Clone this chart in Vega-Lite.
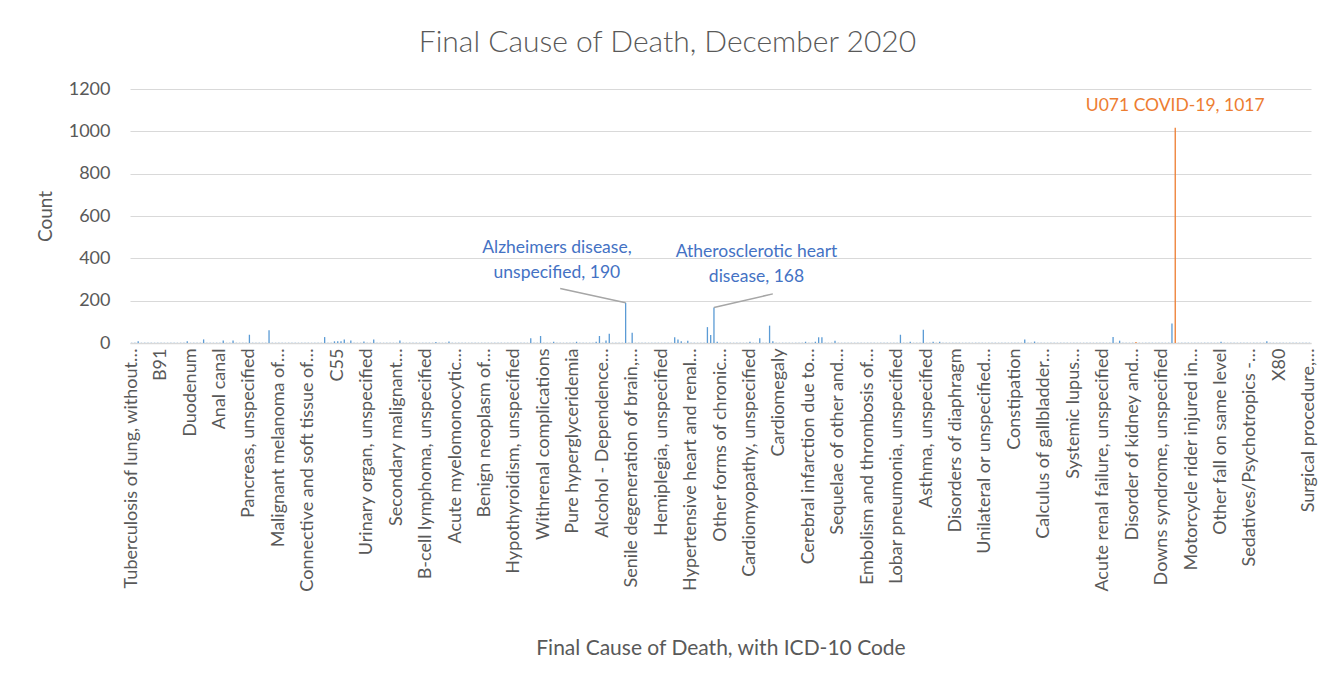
{
"$schema":"https://vega.github.io/schema/vega-lite/v6.json",
"autosize":{"type":"none"},
"width":1181,"height":254,
"padding":{"left":130,"top":89,"right":24,"bottom":348},
"background":"white",
"config":{"view":{"stroke":null},"font":"Lato"},
"title":{"text":"Final Cause of Death, December 2020","fontSize":30,"fontWeight":300,"color":"#595959","font":"Lato","anchor":"middle","dx":-53,"offset":22},
"datasets":{
"causes":[
{"i":0,"cause":"Tuberculosis of lung, without…","count":1},{"i":1,"cause":"Cause 1","count":1},{"i":2,"cause":"Cause 2","count":8},{"i":3,"cause":"Cause 3","count":1},{"i":4,"cause":"Cause 4","count":1},{"i":5,"cause":"Cause 5","count":1},{"i":6,"cause":"Cause 6","count":1},{"i":7,"cause":"Cause 7","count":1},{"i":8,"cause":"Cause 8","count":1},{"i":9,"cause":"B91","count":1},
{"i":10,"cause":"Cause 10","count":1},{"i":11,"cause":"Cause 11","count":1},{"i":12,"cause":"Cause 12","count":1},{"i":13,"cause":"Cause 13","count":1},{"i":14,"cause":"Cause 14","count":1},{"i":15,"cause":"Cause 15","count":1},{"i":16,"cause":"Cause 16","count":1},{"i":17,"cause":"Cause 17","count":8},{"i":18,"cause":"Duodenum","count":1},{"i":19,"cause":"Cause 19","count":1},
{"i":20,"cause":"Cause 20","count":1},{"i":21,"cause":"Cause 21","count":1},{"i":22,"cause":"Cause 22","count":17},{"i":23,"cause":"Cause 23","count":1},{"i":24,"cause":"Cause 24","count":1},{"i":25,"cause":"Cause 25","count":1},{"i":26,"cause":"Cause 26","count":1},{"i":27,"cause":"Anal canal","count":1},{"i":28,"cause":"Cause 28","count":12},{"i":29,"cause":"Cause 29","count":1},
{"i":30,"cause":"Cause 30","count":1},{"i":31,"cause":"Cause 31","count":12},{"i":32,"cause":"Cause 32","count":1},{"i":33,"cause":"Cause 33","count":1},{"i":34,"cause":"Cause 34","count":1},{"i":35,"cause":"Cause 35","count":1},{"i":36,"cause":"Pancreas, unspecified","count":39},{"i":37,"cause":"Cause 37","count":1},{"i":38,"cause":"Cause 38","count":1},{"i":39,"cause":"Cause 39","count":1},
{"i":40,"cause":"Cause 40","count":1},{"i":41,"cause":"Cause 41","count":1},{"i":42,"cause":"Cause 42","count":60},{"i":43,"cause":"Cause 43","count":1},{"i":44,"cause":"Cause 44","count":1},{"i":45,"cause":"Malignant melanoma of…","count":1},{"i":46,"cause":"Cause 46","count":1},{"i":47,"cause":"Cause 47","count":1},{"i":48,"cause":"Cause 48","count":1},{"i":49,"cause":"Cause 49","count":1},
{"i":50,"cause":"Cause 50","count":1},{"i":51,"cause":"Cause 51","count":1},{"i":52,"cause":"Cause 52","count":1},{"i":53,"cause":"Cause 53","count":1},{"i":54,"cause":"Connective and soft tissue of…","count":1},{"i":55,"cause":"Cause 55","count":1},{"i":56,"cause":"Cause 56","count":1},{"i":57,"cause":"Cause 57","count":1},{"i":58,"cause":"Cause 58","count":1},{"i":59,"cause":"Cause 59","count":28},
{"i":60,"cause":"Cause 60","count":1},{"i":61,"cause":"Cause 61","count":1},{"i":62,"cause":"Cause 62","count":8},{"i":63,"cause":"C55","count":8},{"i":64,"cause":"Cause 64","count":8},{"i":65,"cause":"Cause 65","count":17},{"i":66,"cause":"Cause 66","count":1},{"i":67,"cause":"Cause 67","count":12},{"i":68,"cause":"Cause 68","count":1},{"i":69,"cause":"Cause 69","count":1},
{"i":70,"cause":"Cause 70","count":1},{"i":71,"cause":"Cause 71","count":7},{"i":72,"cause":"Urinary organ, unspecified","count":1},{"i":73,"cause":"Cause 73","count":1},{"i":74,"cause":"Cause 74","count":17},{"i":75,"cause":"Cause 75","count":1},{"i":76,"cause":"Cause 76","count":1},{"i":77,"cause":"Cause 77","count":1},{"i":78,"cause":"Cause 78","count":1},{"i":79,"cause":"Cause 79","count":1},
{"i":80,"cause":"Cause 80","count":1},{"i":81,"cause":"Secondary malignant…","count":1},{"i":82,"cause":"Cause 82","count":12},{"i":83,"cause":"Cause 83","count":1},{"i":84,"cause":"Cause 84","count":1},{"i":85,"cause":"Cause 85","count":1},{"i":86,"cause":"Cause 86","count":1},{"i":87,"cause":"Cause 87","count":1},{"i":88,"cause":"Cause 88","count":1},{"i":89,"cause":"Cause 89","count":1},
{"i":90,"cause":"B-cell lymphoma, unspecified","count":1},{"i":91,"cause":"Cause 91","count":1},{"i":92,"cause":"Cause 92","count":1},{"i":93,"cause":"Cause 93","count":5},{"i":94,"cause":"Cause 94","count":1},{"i":95,"cause":"Cause 95","count":1},{"i":96,"cause":"Cause 96","count":1},{"i":97,"cause":"Cause 97","count":7},{"i":98,"cause":"Cause 98","count":1},{"i":99,"cause":"Acute myelomonocytic…","count":1},
{"i":100,"cause":"Cause 100","count":1},{"i":101,"cause":"Cause 101","count":1},{"i":102,"cause":"Cause 102","count":1},{"i":103,"cause":"Cause 103","count":1},{"i":104,"cause":"Cause 104","count":1},{"i":105,"cause":"Cause 105","count":1},{"i":106,"cause":"Cause 106","count":1},{"i":107,"cause":"Cause 107","count":1},{"i":108,"cause":"Benign neoplasm of…","count":1},{"i":109,"cause":"Cause 109","count":1},
{"i":110,"cause":"Cause 110","count":1},{"i":111,"cause":"Cause 111","count":1},{"i":112,"cause":"Cause 112","count":1},{"i":113,"cause":"Cause 113","count":1},{"i":114,"cause":"Cause 114","count":1},{"i":115,"cause":"Cause 115","count":1},{"i":116,"cause":"Cause 116","count":1},{"i":117,"cause":"Hypothyroidism, unspecified","count":1},{"i":118,"cause":"Cause 118","count":1},{"i":119,"cause":"Cause 119","count":1},
{"i":120,"cause":"Cause 120","count":1},{"i":121,"cause":"Cause 121","count":1},{"i":122,"cause":"Cause 122","count":22},{"i":123,"cause":"Cause 123","count":1},{"i":124,"cause":"Cause 124","count":1},{"i":125,"cause":"Cause 125","count":33},{"i":126,"cause":"Withrenal complications","count":1},{"i":127,"cause":"Cause 127","count":1},{"i":128,"cause":"Cause 128","count":1},{"i":129,"cause":"Cause 129","count":6},
{"i":130,"cause":"Cause 130","count":1},{"i":131,"cause":"Cause 131","count":1},{"i":132,"cause":"Cause 132","count":1},{"i":133,"cause":"Cause 133","count":1},{"i":134,"cause":"Cause 134","count":1},{"i":135,"cause":"Pure hyperglyceridemia","count":1},{"i":136,"cause":"Cause 136","count":6},{"i":137,"cause":"Cause 137","count":1},{"i":138,"cause":"Cause 138","count":1},{"i":139,"cause":"Cause 139","count":1},
{"i":140,"cause":"Cause 140","count":1},{"i":141,"cause":"Cause 141","count":1},{"i":142,"cause":"Cause 142","count":6},{"i":143,"cause":"Cause 143","count":33},{"i":144,"cause":"Alcohol - Dependence…","count":1},{"i":145,"cause":"Cause 145","count":12},{"i":146,"cause":"Cause 146","count":44},{"i":147,"cause":"Cause 147","count":1},{"i":148,"cause":"Cause 148","count":1},{"i":149,"cause":"Cause 149","count":1},
{"i":150,"cause":"Cause 150","count":1},{"i":151,"cause":"Alzheimers disease, unspecified","count":190},{"i":152,"cause":"Cause 152","count":1},{"i":153,"cause":"Senile degeneration of brain,…","count":49},{"i":154,"cause":"Cause 154","count":1},{"i":155,"cause":"Cause 155","count":1},{"i":156,"cause":"Cause 156","count":1},{"i":157,"cause":"Cause 157","count":1},{"i":158,"cause":"Cause 158","count":1},{"i":159,"cause":"Cause 159","count":1},
{"i":160,"cause":"Cause 160","count":1},{"i":161,"cause":"Cause 161","count":1},{"i":162,"cause":"Hemiplegia, unspecified","count":1},{"i":163,"cause":"Cause 163","count":1},{"i":164,"cause":"Cause 164","count":1},{"i":165,"cause":"Cause 165","count":1},{"i":166,"cause":"Cause 166","count":27},{"i":167,"cause":"Cause 167","count":16},{"i":168,"cause":"Cause 168","count":8},{"i":169,"cause":"Cause 169","count":1},
{"i":170,"cause":"Cause 170","count":11},{"i":171,"cause":"Hypertensive heart and renal…","count":1},{"i":172,"cause":"Cause 172","count":1},{"i":173,"cause":"Cause 173","count":1},{"i":174,"cause":"Cause 174","count":1},{"i":175,"cause":"Cause 175","count":1},{"i":176,"cause":"Cause 176","count":75},{"i":177,"cause":"Cause 177","count":38},{"i":178,"cause":"Atherosclerotic heart disease","count":168},{"i":179,"cause":"Cause 179","count":6},
{"i":180,"cause":"Other forms of chronic…","count":1},{"i":181,"cause":"Cause 181","count":1},{"i":182,"cause":"Cause 182","count":1},{"i":183,"cause":"Cause 183","count":1},{"i":184,"cause":"Cause 184","count":1},{"i":185,"cause":"Cause 185","count":1},{"i":186,"cause":"Cause 186","count":1},{"i":187,"cause":"Cause 187","count":1},{"i":188,"cause":"Cause 188","count":1},{"i":189,"cause":"Cardiomyopathy, unspecified","count":6},
{"i":190,"cause":"Cause 190","count":1},{"i":191,"cause":"Cause 191","count":1},{"i":192,"cause":"Cause 192","count":22},{"i":193,"cause":"Cause 193","count":1},{"i":194,"cause":"Cause 194","count":1},{"i":195,"cause":"Cause 195","count":82},{"i":196,"cause":"Cause 196","count":8},{"i":197,"cause":"Cause 197","count":1},{"i":198,"cause":"Cardiomegaly","count":1},{"i":199,"cause":"Cause 199","count":1},
{"i":200,"cause":"Cause 200","count":1},{"i":201,"cause":"Cause 201","count":1},{"i":202,"cause":"Cause 202","count":1},{"i":203,"cause":"Cause 203","count":1},{"i":204,"cause":"Cause 204","count":1},{"i":205,"cause":"Cause 205","count":1},{"i":206,"cause":"Cause 206","count":6},{"i":207,"cause":"Cerebral infarction due to…","count":1},{"i":208,"cause":"Cause 208","count":1},{"i":209,"cause":"Cause 209","count":6},
{"i":210,"cause":"Cause 210","count":27},{"i":211,"cause":"Cause 211","count":27},{"i":212,"cause":"Cause 212","count":1},{"i":213,"cause":"Cause 213","count":1},{"i":214,"cause":"Cause 214","count":1},{"i":215,"cause":"Cause 215","count":11},{"i":216,"cause":"Sequelae of other and…","count":1},{"i":217,"cause":"Cause 217","count":1},{"i":218,"cause":"Cause 218","count":1},{"i":219,"cause":"Cause 219","count":1},
{"i":220,"cause":"Cause 220","count":1},{"i":221,"cause":"Cause 221","count":1},{"i":222,"cause":"Cause 222","count":1},{"i":223,"cause":"Cause 223","count":1},{"i":224,"cause":"Cause 224","count":1},{"i":225,"cause":"Embolism and thrombosis of…","count":1},{"i":226,"cause":"Cause 226","count":1},{"i":227,"cause":"Cause 227","count":1},{"i":228,"cause":"Cause 228","count":1},{"i":229,"cause":"Cause 229","count":1},
{"i":230,"cause":"Cause 230","count":1},{"i":231,"cause":"Cause 231","count":1},{"i":232,"cause":"Cause 232","count":1},{"i":233,"cause":"Cause 233","count":1},{"i":234,"cause":"Lobar pneumonia, unspecified","count":1},{"i":235,"cause":"Cause 235","count":39},{"i":236,"cause":"Cause 236","count":1},{"i":237,"cause":"Cause 237","count":1},{"i":238,"cause":"Cause 238","count":6},{"i":239,"cause":"Cause 239","count":1},
{"i":240,"cause":"Cause 240","count":1},{"i":241,"cause":"Cause 241","count":1},{"i":242,"cause":"Cause 242","count":63},{"i":243,"cause":"Asthma, unspecified","count":1},{"i":244,"cause":"Cause 244","count":1},{"i":245,"cause":"Cause 245","count":6},{"i":246,"cause":"Cause 246","count":1},{"i":247,"cause":"Cause 247","count":6},{"i":248,"cause":"Cause 248","count":1},{"i":249,"cause":"Cause 249","count":1},
{"i":250,"cause":"Cause 250","count":1},{"i":251,"cause":"Cause 251","count":1},{"i":252,"cause":"Disorders of diaphragm","count":1},{"i":253,"cause":"Cause 253","count":1},{"i":254,"cause":"Cause 254","count":1},{"i":255,"cause":"Cause 255","count":1},{"i":256,"cause":"Cause 256","count":1},{"i":257,"cause":"Cause 257","count":1},{"i":258,"cause":"Cause 258","count":1},{"i":259,"cause":"Cause 259","count":1},
{"i":260,"cause":"Cause 260","count":1},{"i":261,"cause":"Unilateral or unspecified…","count":1},{"i":262,"cause":"Cause 262","count":1},{"i":263,"cause":"Cause 263","count":1},{"i":264,"cause":"Cause 264","count":1},{"i":265,"cause":"Cause 265","count":1},{"i":266,"cause":"Cause 266","count":1},{"i":267,"cause":"Cause 267","count":1},{"i":268,"cause":"Cause 268","count":1},{"i":269,"cause":"Cause 269","count":1},
{"i":270,"cause":"Constipation","count":1},{"i":271,"cause":"Cause 271","count":1},{"i":272,"cause":"Cause 272","count":1},{"i":273,"cause":"Cause 273","count":17},{"i":274,"cause":"Cause 274","count":1},{"i":275,"cause":"Cause 275","count":1},{"i":276,"cause":"Cause 276","count":7},{"i":277,"cause":"Cause 277","count":1},{"i":278,"cause":"Cause 278","count":1},{"i":279,"cause":"Calculus of gallbladder…","count":1},
{"i":280,"cause":"Cause 280","count":1},{"i":281,"cause":"Cause 281","count":1},{"i":282,"cause":"Cause 282","count":1},{"i":283,"cause":"Cause 283","count":1},{"i":284,"cause":"Cause 284","count":1},{"i":285,"cause":"Cause 285","count":1},{"i":286,"cause":"Cause 286","count":1},{"i":287,"cause":"Cause 287","count":1},{"i":288,"cause":"Systemic lupus…","count":1},{"i":289,"cause":"Cause 289","count":1},
{"i":290,"cause":"Cause 290","count":1},{"i":291,"cause":"Cause 291","count":1},{"i":292,"cause":"Cause 292","count":1},{"i":293,"cause":"Cause 293","count":1},{"i":294,"cause":"Cause 294","count":1},{"i":295,"cause":"Cause 295","count":1},{"i":296,"cause":"Cause 296","count":1},{"i":297,"cause":"Acute renal failure, unspecified","count":1},{"i":298,"cause":"Cause 298","count":1},{"i":299,"cause":"Cause 299","count":1},
{"i":300,"cause":"Cause 300","count":28},{"i":301,"cause":"Cause 301","count":1},{"i":302,"cause":"Cause 302","count":11},{"i":303,"cause":"Cause 303","count":1},{"i":304,"cause":"Cause 304","count":1},{"i":305,"cause":"Cause 305","count":1},{"i":306,"cause":"Disorder of kidney and…","count":1},{"i":307,"cause":"Cause 307","count":5,"group":"COVID-19"},{"i":308,"cause":"Cause 308","count":1},{"i":309,"cause":"Cause 309","count":1},
{"i":310,"cause":"Cause 310","count":1},{"i":311,"cause":"Cause 311","count":1},{"i":312,"cause":"Cause 312","count":1},{"i":313,"cause":"Cause 313","count":1},{"i":314,"cause":"Cause 314","count":1},{"i":315,"cause":"Downs syndrome, unspecified","count":1},{"i":316,"cause":"Cause 316","count":1},{"i":317,"cause":"Cause 317","count":1},{"i":318,"cause":"Cause 318","count":92},{"i":319,"cause":"U071 COVID-19","count":1017,"group":"COVID-19"},
{"i":320,"cause":"Cause 320","count":1},{"i":321,"cause":"Cause 321","count":1},{"i":322,"cause":"Cause 322","count":1},{"i":323,"cause":"Cause 323","count":1},{"i":324,"cause":"Motorcycle rider injured in…","count":1},{"i":325,"cause":"Cause 325","count":1},{"i":326,"cause":"Cause 326","count":1},{"i":327,"cause":"Cause 327","count":1},{"i":328,"cause":"Cause 328","count":1},{"i":329,"cause":"Cause 329","count":1},
{"i":330,"cause":"Cause 330","count":1},{"i":331,"cause":"Cause 331","count":1},{"i":332,"cause":"Cause 332","count":1},{"i":333,"cause":"Other fall on same level","count":6},{"i":334,"cause":"Cause 334","count":1},{"i":335,"cause":"Cause 335","count":1},{"i":336,"cause":"Cause 336","count":1},{"i":337,"cause":"Cause 337","count":1},{"i":338,"cause":"Cause 338","count":1},{"i":339,"cause":"Cause 339","count":1},
{"i":340,"cause":"Cause 340","count":1},{"i":341,"cause":"Cause 341","count":1},{"i":342,"cause":"Sedatives/Psychotropics -…","count":1},{"i":343,"cause":"Cause 343","count":1},{"i":344,"cause":"Cause 344","count":1},{"i":345,"cause":"Cause 345","count":1},{"i":346,"cause":"Cause 346","count":1},{"i":347,"cause":"Cause 347","count":8},{"i":348,"cause":"Cause 348","count":1},{"i":349,"cause":"Cause 349","count":1},
{"i":350,"cause":"Cause 350","count":1},{"i":351,"cause":"X80","count":1},{"i":352,"cause":"Cause 352","count":1},{"i":353,"cause":"Cause 353","count":1},{"i":354,"cause":"Cause 354","count":1},{"i":355,"cause":"Cause 355","count":1},{"i":356,"cause":"Cause 356","count":1},{"i":357,"cause":"Cause 357","count":1},{"i":358,"cause":"Cause 358","count":1},{"i":359,"cause":"Cause 359","count":1},
{"i":360,"cause":"Surgical procedure,…","count":1}
],
"leaders":[
{"i":151,"cause":"Alzheimers disease, unspecified","count":190,"id":"a"},
{"i":131,"cause":"Cause 131","count":257,"id":"a"},
{"i":178,"cause":"Atherosclerotic heart disease","count":168,"id":"b"},
{"i":196,"cause":"Cause 196","count":232,"id":"b"}
],
"notes":[
{"i":130,"cause":"Cause 130","count":448,"text":["Alzheimers disease,","unspecified, 190"],"kind":"blue"},
{"i":191,"cause":"Cause 191","count":431,"text":["Atherosclerotic heart","disease, 168"],"kind":"blue"},
{"i":319,"cause":"U071 COVID-19","count":1121,"text":["U071 COVID-19, 1017"],"kind":"orange"}
]
},
"layer":[
{"data":{"name":"causes"},
"mark":{"type":"bar"},
"encoding":{
"x":{"field":"cause","type":"nominal","sort":{"field":"i","op":"min"},
"scale":{"paddingInner":0.6,"paddingOuter":0.3},
"axis":{"title":"Final Cause of Death, with ICD-10 Code","values":["Tuberculosis of lung, without…","B91","Duodenum","Anal canal","Pancreas, unspecified","Malignant melanoma of…","Connective and soft tissue of…","C55","Urinary organ, unspecified","Secondary malignant…","B-cell lymphoma, unspecified","Acute myelomonocytic…","Benign neoplasm of…","Hypothyroidism, unspecified","Withrenal complications","Pure hyperglyceridemia","Alcohol - Dependence…","Senile degeneration of brain,…","Hemiplegia, unspecified","Hypertensive heart and renal…","Other forms of chronic…","Cardiomyopathy, unspecified","Cardiomegaly","Cerebral infarction due to…","Sequelae of other and…","Embolism and thrombosis of…","Lobar pneumonia, unspecified","Asthma, unspecified","Disorders of diaphragm","Unilateral or unspecified…","Constipation","Calculus of gallbladder…","Systemic lupus…","Acute renal failure, unspecified","Disorder of kidney and…","Downs syndrome, unspecified","Motorcycle rider injured in…","Other fall on same level","Sedatives/Psychotropics -…","X80","Surgical procedure,…"],
"labelAngle":-90,"labelFontSize":18,"labelColor":"#595959","labelLimit":400,"labelPadding":5,"labelOverlap":false,"ticks":false,"grid":false,
"domainColor":"#D9D9D9","domainWidth":1.3,
"titleFontSize":21,"titleFontWeight":"normal","titleColor":"#595959","titleY":305,"titleBaseline":"middle"}},
"y":{"field":"count","type":"quantitative","scale":{"domain":[0,1200]},
"axis":{"title":"Count","values":[0,200,400,600,800,1000,1200],"format":"d","ticks":false,"domain":false,"grid":true,"gridColor":"#D9D9D9","gridWidth":1.1,
"labelFontSize":18,"labelColor":"#595959","labelPadding":20,
"titleFontSize":19,"titleFontWeight":"normal","titleColor":"#595959","titlePadding":13}},
"color":{"condition":{"test":"datum.group === 'COVID-19'","value":"#ED7D31"},"value":"#5B9BD5"}
}},
{"data":{"name":"leaders"},
"mark":{"type":"line","color":"#A6A6A6","strokeWidth":1.5},
"encoding":{
"x":{"field":"cause","type":"nominal","sort":{"field":"i","op":"min"}},
"y":{"field":"count","type":"quantitative"},
"detail":{"field":"id"}
}},
{"data":{"name":"notes"},
"mark":{"type":"text","fontSize":17.5,"lineHeight":25,"baseline":"middle","align":"center","font":"Lato"},
"encoding":{
"x":{"field":"cause","type":"nominal","sort":{"field":"i","op":"min"}},
"y":{"field":"count","type":"quantitative"},
"text":{"field":"text"},
"color":{"condition":{"test":"datum.kind === 'orange'","value":"#ED7D31"},"value":"#4472C4"}
}}
]
}
